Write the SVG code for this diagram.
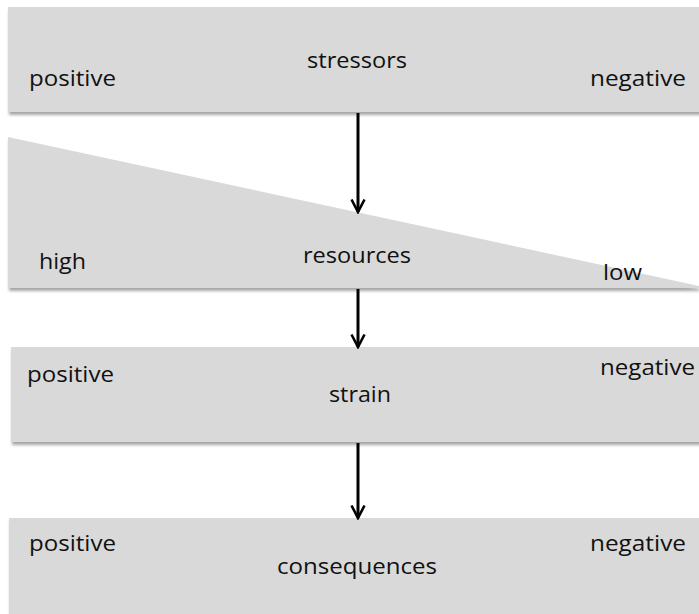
<svg xmlns="http://www.w3.org/2000/svg" width="699" height="614" viewBox="0 0 699 614">
  <style>
    .panel { fill: #d9d9d9; filter: url(#shadow); }
    .lbl { font-family: "Open Sans", "Noto Sans", sans-serif; font-size: 21.5px; fill: #111; }
    .mid { text-anchor: middle; }
    .conn { stroke: #000; stroke-width: 3; fill: none; }
  </style>
  <defs>
    <filter id="shadow" x="-5%" y="-10%" width="110%" height="130%">
      <feGaussianBlur in="SourceAlpha" stdDeviation="1.5"/>
      <feOffset dx="1" dy="2.5" result="b"/>
      <feComponentTransfer><feFuncA type="linear" slope="0.35"/></feComponentTransfer>
      <feMerge><feMergeNode/><feMergeNode in="SourceGraphic"/></feMerge>
    </filter>
    <!-- open chevron head; drawn pointing along +x so orient="auto" follows the line -->
    <marker id="head" markerWidth="16" markerHeight="16" viewBox="0 0 16 16" refX="14" refY="8" orient="auto" markerUnits="userSpaceOnUse">
      <polyline points="1.5,1.5 14,8 1.5,14.5" fill="none" stroke="#000" stroke-width="2.6" stroke-linejoin="miter"/>
    </marker>
  </defs>

  <g id="stressors">
    <rect class="panel" x="8" y="7" width="700" height="105"/>
    <text class="lbl mid" x="357" y="68" textLength="100" lengthAdjust="spacingAndGlyphs">stressors</text>
    <text class="lbl" x="29" y="86" textLength="87" lengthAdjust="spacingAndGlyphs">positive</text>
    <text class="lbl" x="590" y="86" textLength="96" lengthAdjust="spacingAndGlyphs">negative</text>
  </g>

  <g id="resources">
    <polygon class="panel" points="8,137 699,286 699,288 8,288"/>
    <text class="lbl mid" x="357" y="263" textLength="108" lengthAdjust="spacingAndGlyphs">resources</text>
    <text class="lbl" x="39" y="269" textLength="47" lengthAdjust="spacingAndGlyphs">high</text>
    <text class="lbl" x="603" y="280" textLength="39" lengthAdjust="spacingAndGlyphs">low</text>
  </g>

  <g id="strain">
    <rect class="panel" x="11" y="347" width="700" height="95"/>
    <text class="lbl mid" x="360" y="402" textLength="62" lengthAdjust="spacingAndGlyphs">strain</text>
    <text class="lbl" x="27" y="382" textLength="87" lengthAdjust="spacingAndGlyphs">positive</text>
    <text class="lbl" x="600" y="375" textLength="95" lengthAdjust="spacingAndGlyphs">negative</text>
  </g>

  <g id="consequences">
    <rect class="panel" x="9" y="518" width="700" height="100"/>
    <text class="lbl mid" x="357" y="574" textLength="160" lengthAdjust="spacingAndGlyphs">consequences</text>
    <text class="lbl" x="29" y="551" textLength="87" lengthAdjust="spacingAndGlyphs">positive</text>
    <text class="lbl" x="590" y="551" textLength="96" lengthAdjust="spacingAndGlyphs">negative</text>
  </g>

  <g id="connectors">
    <line class="conn" x1="358" y1="113" x2="358" y2="212" marker-end="url(#head)"/>
    <line class="conn" x1="358" y1="289" x2="358" y2="347" marker-end="url(#head)"/>
    <line class="conn" x1="358" y1="443" x2="358" y2="518" marker-end="url(#head)"/>
  </g>
</svg>
